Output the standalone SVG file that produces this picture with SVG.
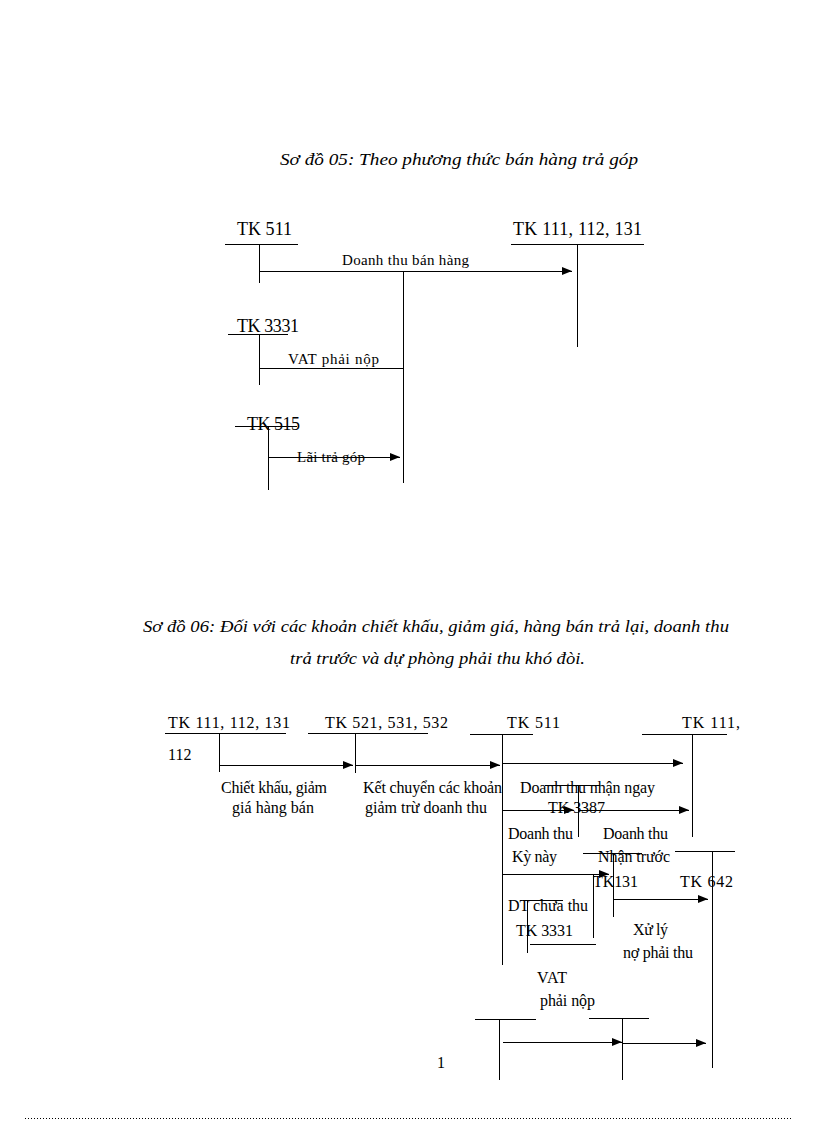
<svg xmlns="http://www.w3.org/2000/svg" width="816" height="1123" viewBox="0 0 816 1123">
<style>
text{font-family:"Liberation Serif","Times New Roman",serif;fill:#000}
.t{font-style:italic;font-size:17px}
.h{font-size:18px}
.l{font-size:16px}
.s{font-size:15px}
line{stroke:#000;stroke-width:1;shape-rendering:crispEdges}
</style>
<defs>
<marker id="ah" markerUnits="userSpaceOnUse" markerWidth="10" markerHeight="8" refX="10" refY="4" orient="auto">
<path d="M0,0 L10,4 L0,8 Z" fill="#000"/>
</marker>
</defs>
<rect width="816" height="1123" fill="#fff"/>
<text class="t" x="280" y="165" textLength="358" lengthAdjust="spacingAndGlyphs">Sơ đồ 05: Theo phương thức bán hàng trả góp</text>
<text class="t" x="143" y="632" textLength="586" lengthAdjust="spacingAndGlyphs">Sơ đồ 06: Đối với các khoản chiết khấu, giảm giá, hàng bán trả lại, doanh thu</text>
<text class="t" x="290" y="664" textLength="295" lengthAdjust="spacingAndGlyphs">trả trước và dự phòng phải thu khó đòi.</text>

<g id="tk511-a">
<text class="h" x="237" y="235" textLength="55">TK 511</text>
<line x1="225" y1="244" x2="298" y2="244"/>
<line x1="259" y1="244" x2="259" y2="283"/>
</g>
<g id="tk111-a">
<text class="h" x="513" y="235" textLength="129">TK 111, 112, 131</text>
<line x1="511" y1="244" x2="644" y2="244"/>
<line x1="577" y1="244" x2="577" y2="347"/>
</g>
<g id="tk3331-a">
<text class="h" x="237" y="332" textLength="62">TK 3331</text>
<line x1="228" y1="334" x2="288" y2="334"/>
<line x1="259" y1="334" x2="259" y2="385"/>
</g>
<g id="tk515-a">
<text class="h" x="247" y="430" textLength="53">TK 515</text>
<line x1="235" y1="426" x2="297" y2="426"/>
<line x1="268" y1="426" x2="268" y2="490"/>
</g>

<g id="tk111-b">
<text class="l" x="168" y="728" textLength="122">TK 111, 112, 131</text>
<text class="l" x="168" y="760">112</text>
<line x1="165" y1="733" x2="286" y2="733"/>
<line x1="219" y1="733" x2="219" y2="772"/>
</g>
<g id="tk521-b">
<text class="l" x="325" y="728" textLength="123">TK 521, 531, 532</text>
<line x1="308" y1="733" x2="428" y2="733"/>
<line x1="355" y1="733" x2="355" y2="773"/>
</g>
<g id="tk511-b">
<text class="l" x="507" y="728" textLength="53">TK 511</text>
<line x1="470" y1="734" x2="533" y2="734"/>
<line x1="502" y1="734" x2="502" y2="965"/>
</g>
<g id="tk111c-b">
<text class="l" x="682" y="728" textLength="58">TK 111,</text>
<line x1="642" y1="734" x2="727" y2="734"/>
<line x1="692" y1="734" x2="692" y2="837"/>
</g>
<g id="tk3387-b">
<text class="l" x="548" y="813" textLength="57">TK 3387</text>
<line x1="545" y1="785" x2="600" y2="785"/>
<line x1="578" y1="785" x2="578" y2="837"/>
</g>
<g id="tk131-b">
<text class="l" x="593" y="887" textLength="45">TK131</text>
<line x1="583" y1="853" x2="642" y2="853"/>
<line x1="613" y1="853" x2="613" y2="917"/>
</g>
<g id="tk642-b">
<text class="l" x="680" y="887" textLength="53">TK 642</text>
<line x1="675" y1="851" x2="735" y2="851"/>
<line x1="712" y1="851" x2="712" y2="1068"/>
</g>
<g id="dt-b">
<line x1="523" y1="900" x2="563" y2="900"/>
<line x1="527" y1="900" x2="527" y2="953"/>
</g>
<g id="tk3331-b">
<text class="l" x="516" y="936" textLength="57">TK 3331</text>
<line x1="530" y1="944" x2="596" y2="944"/>
<line x1="593" y1="875" x2="593" y2="938"/>
</g>
<g id="bot1-b">
<line x1="475" y1="1019" x2="536" y2="1019"/>
<line x1="499" y1="1019" x2="499" y2="1080"/>
</g>
<g id="bot2-b">
<line x1="589" y1="1018" x2="649" y2="1018"/>
<line x1="622" y1="1018" x2="622" y2="1080"/>
</g>

<g id="connectors">
<line x1="259" y1="271" x2="572" y2="271" marker-end="url(#ah)"/>
<line x1="403" y1="271" x2="403" y2="483"/>
<line x1="259" y1="368" x2="403" y2="368"/>
<line x1="268" y1="457" x2="400" y2="457" marker-end="url(#ah)"/>
<line x1="219" y1="765" x2="353" y2="765" marker-end="url(#ah)"/>
<line x1="355" y1="765" x2="500" y2="765" marker-end="url(#ah)"/>
<line x1="502" y1="763" x2="683" y2="763" marker-end="url(#ah)"/>
<line x1="502" y1="810" x2="574" y2="810" marker-end="url(#ah)"/>
<line x1="578" y1="810" x2="689" y2="810" marker-end="url(#ah)"/>
<line x1="502" y1="874" x2="609" y2="874" marker-end="url(#ah)"/>
<line x1="613" y1="899" x2="708" y2="899" marker-end="url(#ah)"/>
<line x1="503" y1="1042" x2="622" y2="1042" marker-end="url(#ah)"/>
<line x1="622" y1="1043" x2="706" y2="1043" marker-end="url(#ah)"/>
</g>

<g id="labels">
<text class="s" x="342" y="265" textLength="127">Doanh thu bán hàng</text>
<text class="s" x="288" y="364" textLength="91">VAT phải nộp</text>
<text class="s" x="297" y="462" textLength="68">Lãi trả góp</text>
<text class="l" x="221" y="793" textLength="106">Chiết khấu, giảm</text>
<text class="l" x="232" y="813" textLength="82">giá hàng bán</text>
<text class="l" x="363" y="793" textLength="139">Kết chuyển  các khoản</text>
<text class="l" x="365" y="813" textLength="122">giảm  trừ doanh thu</text>
<text class="l" x="520" y="793" textLength="135">Doanh thu nhận ngay</text>
<text class="l" x="508" y="839" textLength="65">Doanh thu</text>
<text class="l" x="512" y="862" textLength="45">Kỳ này</text>
<text class="l" x="603" y="839" textLength="65">Doanh thu</text>
<text class="l" x="598" y="862" textLength="72">Nhận trước</text>
<text class="l" x="508" y="911" textLength="80">DT chưa thu</text>
<text class="l" x="633" y="935" textLength="35">Xử lý</text>
<text class="l" x="623" y="958" textLength="70">nợ phải thu</text>
<text class="l" x="537" y="983" textLength="30">VAT</text>
<text class="l" x="540" y="1006" textLength="55">phải nộp</text>
<text class="l" x="437" y="1068">1</text>
</g>
<line x1="25" y1="1118" x2="792" y2="1118" stroke="#f8e6f5" stroke-dasharray="1,2"/>
</svg>
